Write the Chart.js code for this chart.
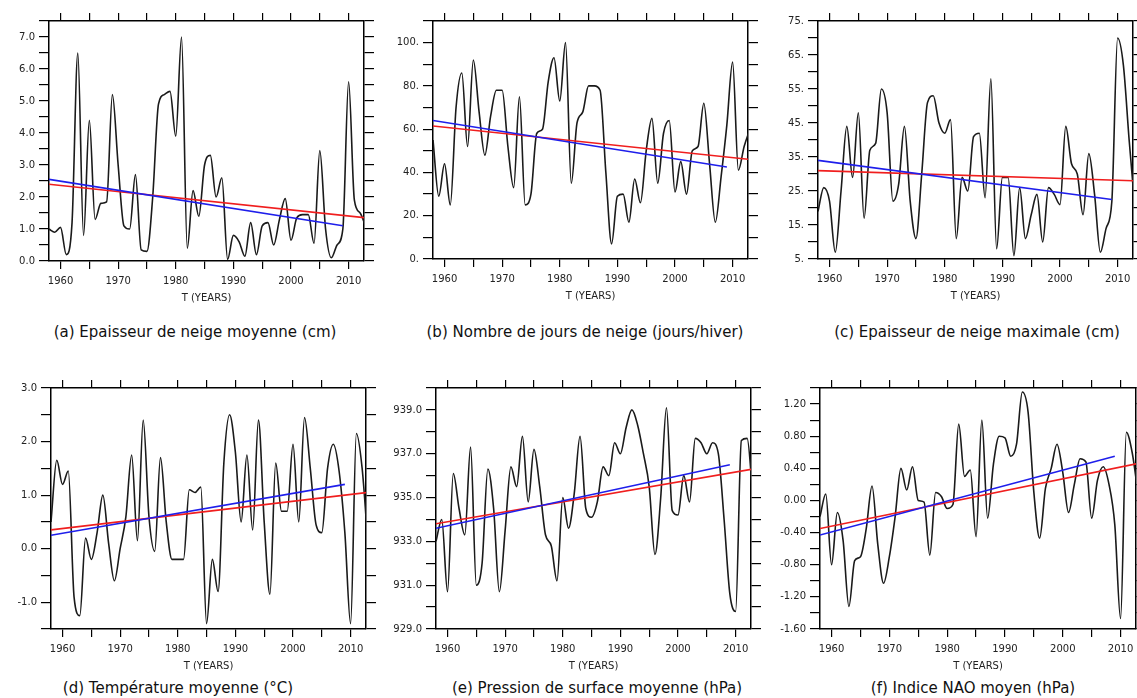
<!DOCTYPE html>
<html>
<head>
<meta charset="utf-8">
<script src="https://cdn.jsdelivr.net/npm/chart.js@4.4.1/dist/chart.umd.min.js"></script>
<style>
  html, body { margin: 0; padding: 0; background: #fff; overflow: hidden; }
  body { width: 1137px; height: 698px; position: relative; }
  canvas { position: absolute; }
  .caption {
    position: absolute;
    font-family: "DejaVu Sans", sans-serif;
    font-size: 15px;
    color: #111;
    white-space: nowrap;
    transform: translate(-50%, -50%);
  }
</style>
</head>
<body>
<script>
// years of the series
const years = [1958, 1959, 1960, 1961, 1962, 1963, 1964, 1965, 1966, 1967,
               1968, 1969, 1970, 1971, 1972, 1973, 1974, 1975, 1976, 1977,
               1978, 1979, 1980, 1981, 1982, 1983, 1984, 1985, 1986, 1987,
               1988, 1989, 1990, 1991, 1992, 1993, 1994, 1995, 1996, 1997,
               1998, 1999, 2000, 2001, 2002, 2003, 2004, 2005, 2006, 2007,
               2008, 2009, 2010, 2011, 2012, 2013];

const xTicks = [1960, 1965, 1970, 1975, 1980, 1985, 1990, 1995, 2000, 2005, 2010];
const xLabels = ['1960', '', '1970', '', '1980', '', '1990', '', '2000', '', '2010'];

// trend lines: start / end years
const redYears = [1958, 2013];
const blueYears = [1958, 2009];

// (a) epaisseur de neige moyenne
const snowMean = [1.0, 0.9, 1.05, 0.2, 1.2, 6.5, 0.8, 4.4, 1.3, 1.8,
                  1.85, 5.2, 3.0, 1.1, 1.0, 2.7, 0.35, 0.3, 2.0, 4.9,
                  5.2, 5.3, 3.9, 7.0, 0.4, 2.2, 1.4, 3.0, 3.3, 2.0,
                  2.6, 0.05, 0.8, 0.6, 0.15, 1.2, 0.2, 1.1, 1.2, 0.5,
                  1.3, 1.95, 0.65, 1.35, 1.45, 1.45, 0.55, 3.45, 1.0, 0.1,
                  0.5, 1.0, 5.6, 1.9, 1.5, 1.05];
const snowMeanRed = [2.4, 1.35];
const snowMeanBlue = [2.55, 1.1];
const snowMeanTicks = [0, 0.5, 1, 1.5, 2, 2.5, 3, 3.5, 4, 4.5, 5, 5.5, 6, 6.5, 7, 7.5];
const snowMeanLabels = ['0.0', '', '1.0', '', '2.0', '', '3.0', '', '4.0', '', '5.0', '', '6.0', '', '7.0', ''];

// (b) nombre de jours de neige
const snowDays = [55, 29, 44, 25, 70, 86, 52, 92, 68, 48,
                  66, 78, 78, 52, 33, 75, 25, 30, 58, 60,
                  82, 93, 73, 100, 35, 63, 68, 80, 80, 78,
                  40, 7, 29, 30, 17, 37, 26, 50, 65, 35,
                  58, 64, 31, 45, 30, 50, 52, 72, 44, 17,
                  38, 62, 91, 41, 52, 60];
const snowDaysRed = [61.5, 46];
const snowDaysBlue = [64, 42.5];
const snowDaysTicks = [0, 10, 20, 30, 40, 50, 60, 70, 80, 90, 100, 110];
const snowDaysLabels = ['0.', '', '20.', '', '40.', '', '60.', '', '80.', '', '100.', ''];

// (c) epaisseur de neige maximale
const snowMax = [19, 26, 22, 7, 25, 44, 29, 48, 17, 37,
                 39, 55, 48, 22, 27, 44, 22, 11, 30, 51,
                 53, 45, 42, 46, 11, 29, 25, 41, 42, 23,
                 58, 8, 29, 29, 6, 26, 11, 18, 24, 10,
                 26, 24, 21, 44, 33, 30, 18, 36, 24, 7,
                 14, 22, 70, 62, 40, 20];
const snowMaxRed = [31, 28];
const snowMaxBlue = [34, 22.5];
const snowMaxTicks = [5, 10, 15, 20, 25, 30, 35, 40, 45, 50, 55, 60, 65, 70, 75];
const snowMaxLabels = ['5.', '', '15.', '', '25.', '', '35.', '', '45.', '', '55.', '', '65.', '', '75.'];

// (d) temperature moyenne
const temp = [0.5, 1.65, 1.2, 1.45, -0.9, -1.25, 0.2, -0.2, 0.3, 1.0,
              0.1, -0.6, 0.0, 0.6, 1.75, 0.15, 2.4, 0.6, -0.05, 1.7,
              0.5, -0.2, -0.2, -0.2, 1.1, 1.05, 1.15, -1.4, -0.2, -0.8,
              1.6, 2.5, 1.8, 0.5, 1.75, 0.35, 2.4, 0.5, -0.85, 1.6,
              0.7, 0.7, 1.95, 0.5, 2.45, 1.5, 0.45, 0.3, 1.5, 1.95,
              1.45, 0.3, -1.4, 2.15, 1.5, 0.1];
const tempRed = [0.35, 1.05];
const tempBlue = [0.25, 1.2];
const tempTicks = [-1.5, -1, -0.5, 0, 0.5, 1, 1.5, 2, 2.5, 3];
const tempLabels = ['', '-1.0', '', '0.0', '', '1.0', '', '2.0', '', '3.0'];

// (e) pression de surface moyenne
const pressure = [933.0, 934.0, 930.7, 936.1, 934.5, 933.3, 937.3, 931.0, 932.0, 936.3,
                  934.5, 930.7, 933.5, 936.4, 935.5, 937.8, 934.8, 937.2, 935.5, 933.3,
                  932.8, 931.2, 935.0, 933.6, 935.2, 937.8, 934.5, 934.1, 934.8, 936.4,
                  936.0, 937.5, 937.0, 938.2, 939.0, 938.3, 937.0, 935.5, 932.4, 935.0,
                  939.1, 934.4, 934.2, 936.0, 934.8, 937.7, 937.5, 937.0, 937.5, 937.0,
                  934.0, 930.6, 929.8, 937.6, 937.7, 935.0];
const pressureRed = [933.8, 936.3];
const pressureBlue = [933.6, 936.5];
const pressureTicks = [929, 930, 931, 932, 933, 934, 935, 936, 937, 938, 939, 940];
const pressureLabels = ['929.0', '', '931.0', '', '933.0', '', '935.0', '', '937.0', '', '939.0', ''];

// (f) indice NAO moyen
const nao = [-0.2, 0.08, -0.8, -0.15, -0.5, -1.32, -0.75, -0.7, -0.35, 0.18,
             -0.55, -1.03, -0.7, -0.2, 0.4, 0.13, 0.42, 0.0, -0.02, -0.68,
             0.1, 0.05, -0.1, -0.05, 0.95, 0.3, 0.38, -0.45, 1.0, -0.22,
             0.45, 0.8, 0.78, 0.55, 0.7, 1.35, 1.1, 0.1, -0.47, 0.15,
             0.4, 0.7, 0.35, -0.15, 0.2, 0.52, 0.48, -0.22, 0.25, 0.42,
             0.2, -0.3, -1.47, 0.85, 0.6, 0.1];
const naoRed = [-0.35, 0.46];
const naoBlue = [-0.43, 0.55];
const naoTicks = [-1.6, -1.4, -1.2, -1.0, -0.8, -0.6, -0.4, -0.2, 0, 0.2, 0.4, 0.6, 0.8, 1.0, 1.2, 1.4];
const naoLabels = ['-1.60', '', '-1.20', '', '-0.80', '', '-0.40', '', '0.00', '', '0.40', '', '0.80', '', '1.20', ''];

const panels = [
    { rect: [49, 21, 315, 240], yMin: 0, yMax: 7.5, values: snowMean, red: snowMeanRed, blue: snowMeanBlue,
      ticks: snowMeanTicks, labels: snowMeanLabels, caption: '(a) Epaisseur de neige moyenne (cm)', cap: [195, 332] },
    { rect: [433, 21, 315, 238], yMin: 0, yMax: 110, values: snowDays, red: snowDaysRed, blue: snowDaysBlue,
      ticks: snowDaysTicks, labels: snowDaysLabels, caption: '(b) Nombre de jours de neige (jours/hiver)', cap: [585, 332] },
    { rect: [818, 21, 315, 238], yMin: 5, yMax: 75, values: snowMax, red: snowMaxRed, blue: snowMaxBlue,
      ticks: snowMaxTicks, labels: snowMaxLabels, caption: '(c) Epaisseur de neige maximale (cm)', cap: [977, 332] },
    { rect: [51, 388, 315, 241], yMin: -1.5, yMax: 3, values: temp, red: tempRed, blue: tempBlue,
      ticks: tempTicks, labels: tempLabels, caption: '(d) Température moyenne (°C)', cap: [178, 688] },
    { rect: [436, 388, 315, 241], yMin: 929, yMax: 940, values: pressure, red: pressureRed, blue: pressureBlue,
      ticks: pressureTicks, labels: pressureLabels, caption: '(e) Pression de surface moyenne (hPa)', cap: [597, 688] },
    { rect: [820, 388, 316, 241], yMin: -1.6, yMax: 1.4, values: nao, red: naoRed, blue: naoBlue,
      ticks: naoTicks, labels: naoLabels, caption: '(f) Indice NAO moyen (hPa)', cap: [973, 688] }
];

const X_MIN = 1958;
const X_MAX = 2012.67;
const LEFT_W = 45, RIGHT_W = 12, TOP_H = 12, BOTTOM_H = 48;

const tickFont = { family: 'DejaVu Sans', size: 10 };
const textColor = '#222';

function frameGrid(len){
    return { drawOnChartArea: false, drawTicks: true, tickLength: len,
             color: '#000', tickColor: '#000', lineWidth: 1.2, tickWidth: 1.2 };
}
const frameBorder = { display: true, color: '#000', width: 1.5 };

function pairs(xs, ys){
    return ys.map((v, i) => ({ x: xs[i], y: v }));
}

panels.forEach(p => {
    const [left, top, w, h] = p.rect;
    const canvas = document.createElement('canvas');
    const cw = w + LEFT_W + RIGHT_W;
    const ch = h + TOP_H + BOTTOM_H;
    canvas.width = cw;
    canvas.height = ch;
    canvas.style.left = (left - LEFT_W) + 'px';
    canvas.style.top = (top - TOP_H) + 'px';
    canvas.style.width = cw + 'px';
    canvas.style.height = ch + 'px';
    document.body.appendChild(canvas);

    const cap = document.createElement('div');
    cap.className = 'caption';
    cap.textContent = p.caption;
    cap.style.left = p.cap[0] + 'px';
    cap.style.top = p.cap[1] + 'px';
    document.body.appendChild(cap);

    const yTickSet = s => { s.ticks = p.ticks.map(v => ({ value: v })); };
    const xTickSet = s => { s.ticks = xTicks.map(v => ({ value: v })); };

    new Chart(canvas, {
        type: 'line',
        data: {
            datasets: [
                { data: pairs(blueYears, p.blue), borderColor: 'rgb(30,30,235)', borderWidth: 1.6 },
                { data: pairs(redYears, p.red), borderColor: 'rgb(240,30,30)', borderWidth: 1.6 },
                { data: pairs(years, p.values), borderColor: '#1a1a1a', borderWidth: 1.6,
                  cubicInterpolationMode: 'monotone' }
            ]
        },
        options: {
            responsive: false,
            animation: false,
            devicePixelRatio: 1,
            layout: { padding: 0 },
            elements: { point: { radius: 0 }, line: { fill: false } },
            plugins: { legend: { display: false }, tooltip: { enabled: false } },
            scales: {
                x: {
                    type: 'linear', position: 'bottom', min: X_MIN, max: X_MAX,
                    afterBuildTicks: xTickSet,
                    afterFit: s => { s.height = BOTTOM_H; },
                    ticks: { callback: (v, i) => xLabels[i], font: tickFont, color: textColor,
                             padding: 6, maxRotation: 0, autoSkip: false },
                    grid: frameGrid(8),
                    border: frameBorder,
                    title: { display: true, text: 'T (YEARS)', font: tickFont, color: textColor,
                             padding: { top: 0, bottom: 5 } }
                },
                x2: {
                    type: 'linear', position: 'top', min: X_MIN, max: X_MAX,
                    afterBuildTicks: xTickSet,
                    afterFit: s => { s.height = TOP_H; },
                    ticks: { display: false },
                    grid: frameGrid(8),
                    border: frameBorder
                },
                y: {
                    type: 'linear', position: 'left', min: p.yMin, max: p.yMax,
                    afterBuildTicks: yTickSet,
                    afterFit: s => { s.width = LEFT_W; },
                    ticks: { callback: (v, i) => p.labels[i], font: tickFont, color: textColor,
                             padding: 4, autoSkip: false },
                    grid: frameGrid(10),
                    border: frameBorder
                },
                y2: {
                    type: 'linear', position: 'right', min: p.yMin, max: p.yMax,
                    afterBuildTicks: yTickSet,
                    afterFit: s => { s.width = RIGHT_W; },
                    ticks: { display: false },
                    grid: frameGrid(10),
                    border: frameBorder
                }
            }
        }
    });
});
</script>
</body>
</html>
